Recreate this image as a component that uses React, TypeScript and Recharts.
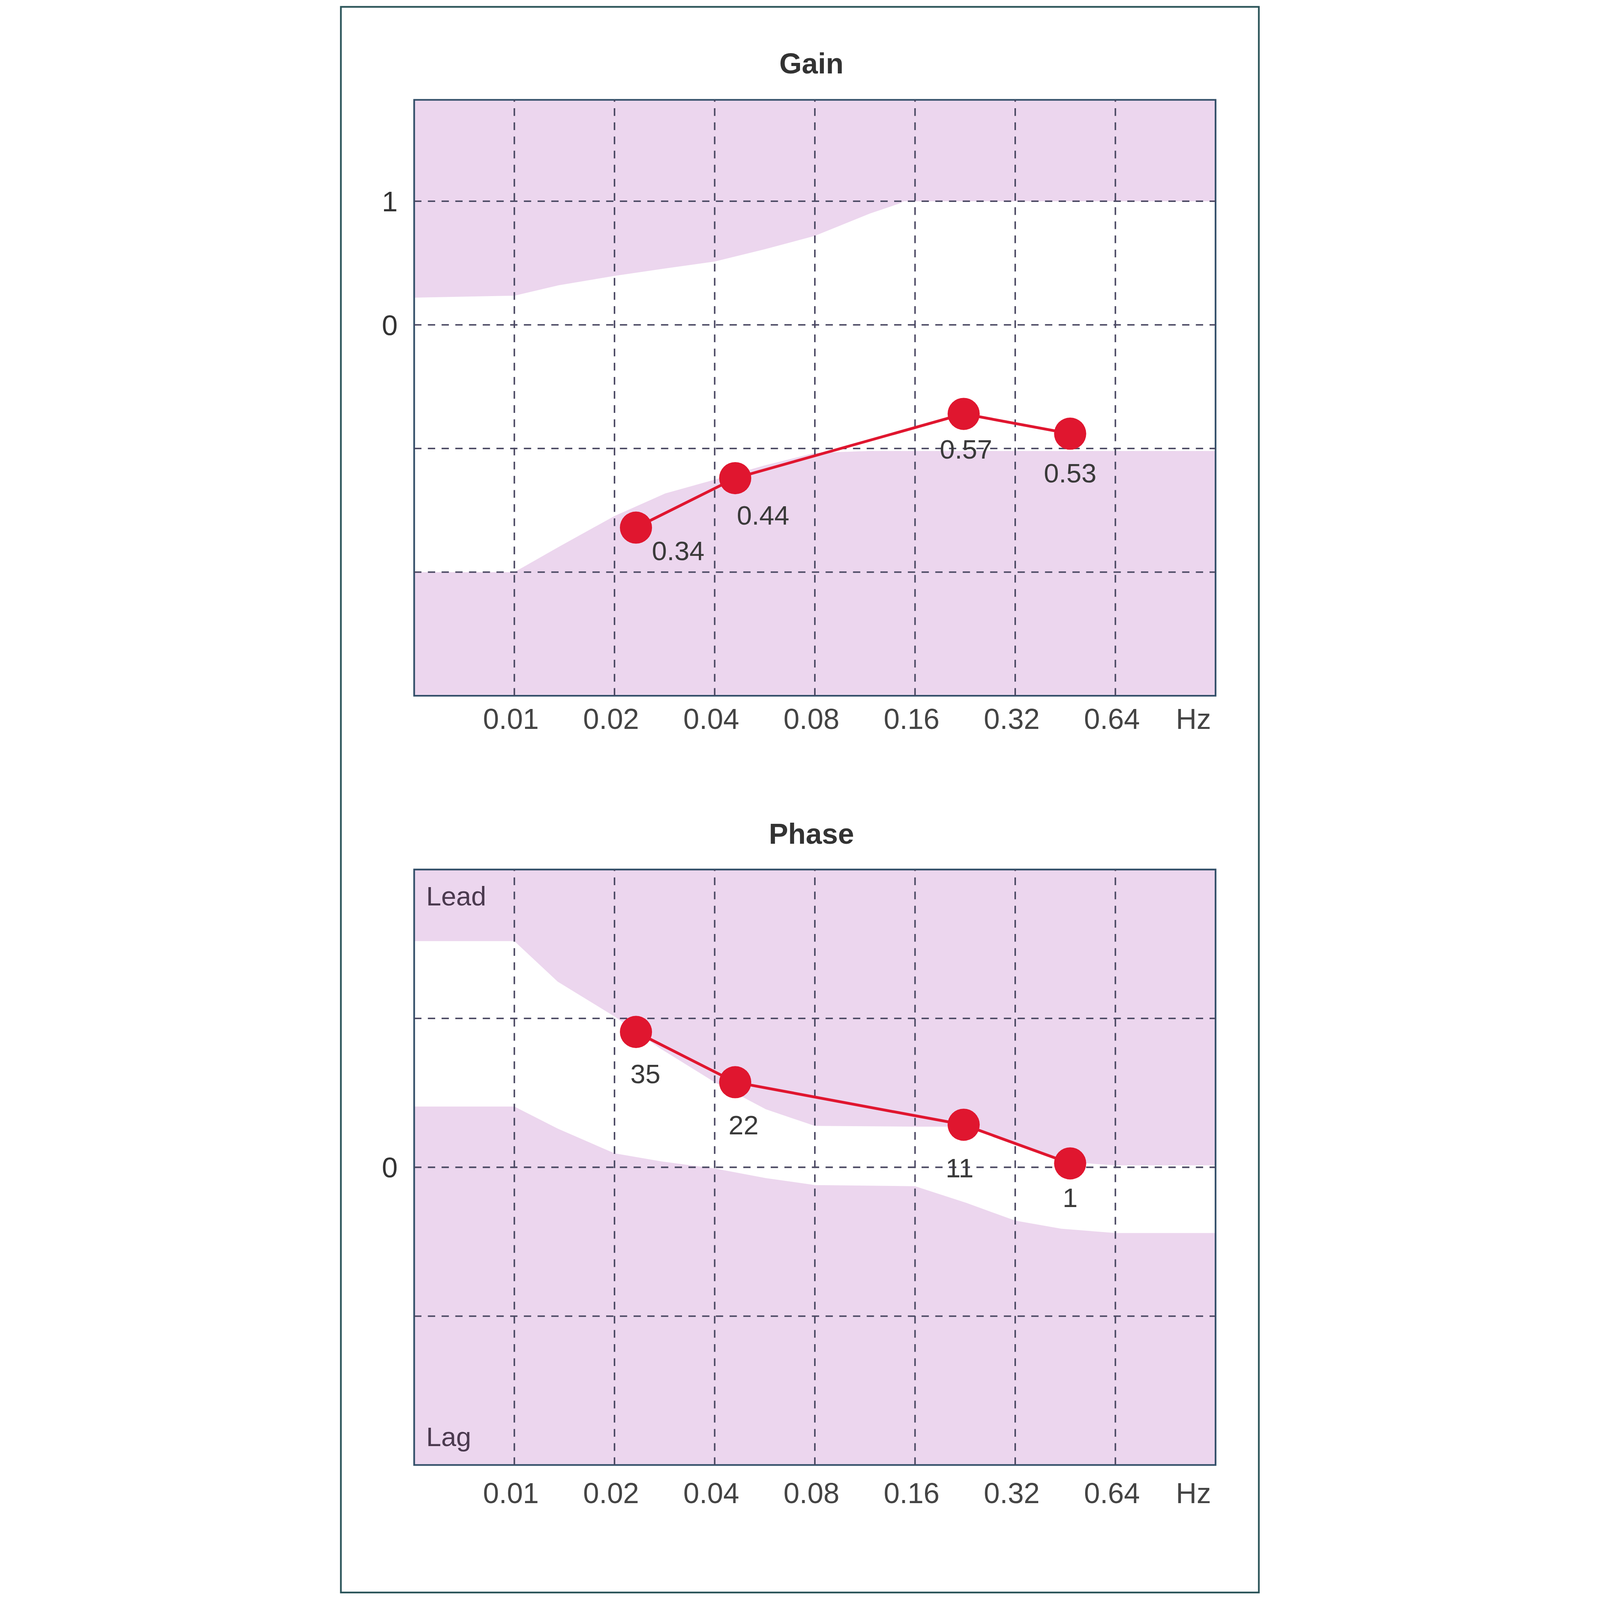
import React from 'react';
import { ComposedChart, Line, Area, XAxis, YAxis, CartesianGrid, ReferenceLine, ReferenceArea } from 'recharts';

// ---- data ----
const xTickValues = [0.01, 0.02, 0.04, 0.08, 0.16, 0.32, 0.64, 1.125];
const xTickLabels = ['0.01', '0.02', '0.04', '0.08', '0.16', '0.32', '0.64', 'Hz'];
const gridFreqs = [0.01, 0.02, 0.04, 0.08, 0.16, 0.32, 0.64];
const xDomain = [0.005, 1.28];

const testFreqs = [0.0232, 0.0461, 0.224, 0.468];
const gainValues = [0.34, 0.44, 0.57, 0.53];
const phaseValues = [35, 22, 11, 1];

const gainGridLevels = [0.25, 0.5, 0.75, 1.0];
const gainTickValues = [0.75, 1.0];
const gainTickLabels = ['0', '1'];
const gainDomain = [0, 1.205];

const phaseGridLevels = [-38.5, 0, 38.5];
const phaseTickValues = [0];
const phaseTickLabels = ['0'];
const phaseDomain = [-77, 77];

// normal-range band (white) boundaries
const gainBandFreqs = [0.005, 0.01, 0.0136, 0.02, 0.0284, 0.04, 0.0566, 0.08, 0.117, 0.143, 0.148, 1.28];
const gainBandLow = [0.25, 0.25, 0.301, 0.3635, 0.409, 0.437, 0.466, 0.491, 0.495, 0.495, 0.495, 0.495];
const gainBandHigh = [0.805, 0.809, 0.83, 0.849, 0.864, 0.878, 0.903, 0.93, 0.975, 0.995, 1.0, 1.0];

const phaseBandFreqs = [0.005, 0.01, 0.0135, 0.02, 0.0277, 0.04, 0.057, 0.08, 0.16, 0.228, 0.32, 0.44, 0.64, 1.28];
const phaseBandLow = [15.7, 15.7, 10, 3.6, 1.5, -0.3, -2.8, -4.6, -4.9, -9.2, -13.8, -15.9, -17, -17];
const phaseBandHigh = [58.5, 58.5, 48, 39, 30.5, 22, 15, 10.7, 10.5, 10.5, 6.2, 1.5, 0.5, 0.5];

// ---- styling / layout ----
const PAGE_W = 4353;
const PAGE_H = 7467;
const FONT = '"Liberation Sans", Arial, Helvetica, sans-serif';
const PINK = '#ecd6ee';
const RED = '#e0162f';
const GRID = '#4a4862';
const FRAME = '#34506a';
const gainLabelOffsets = [[197, 107], [130, 172], [11, 163], [0, 182]];
const phaseLabelOffsets = [[44, 194], [39, 199], [-19, 201], [0, 159]];

const gainPoints = testFreqs.map((f, i) => ({ f, value: gainValues[i] }));
const phasePoints = testFreqs.map((f, i) => ({ f, value: phaseValues[i] }));
const gainBand = gainBandFreqs.map((f, i) => ({ f, band: [gainBandLow[i], gainBandHigh[i]] }));
const phaseBand = phaseBandFreqs.map((f, i) => ({ f, band: [phaseBandLow[i], phaseBandHigh[i]] }));

const XTick = (props: any) => {
  const { x, y, payload } = props;
  const idx = xTickValues.indexOf(payload.value);
  return (
    <text x={x - 16} y={y} dy="0.71em" textAnchor="middle" fontSize={134} fill="#444" fontFamily={FONT}>
      {xTickLabels[idx]}
    </text>
  );
};

const makeYTick = (values: number[], labels: string[]) => (props: any) => {
  const { x, y, payload } = props;
  const idx = values.indexOf(payload.value);
  return (
    <text x={x} y={y} dy="0.36em" textAnchor="end" fontSize={133} fill="#333" fontFamily={FONT}>
      {labels[idx]}
    </text>
  );
};

const makeDot = (offsets: number[][]) => (props: any) => {
  const { cx, cy, index, payload } = props;
  const [dx, dy] = offsets[index] || [0, 0];
  return (
    <g key={`dot-${index}`}>
      <circle cx={cx} cy={cy} r={75} fill={RED} stroke="none" />
      <text x={cx + dx} y={cy + dy} dy="0.36em" textAnchor="middle" fontSize={126} fill="#3a3a3a" fontFamily={FONT}>
        {String(payload.value)}
      </text>
    </g>
  );
};

type PanelProps = {
  top: number;
  height: number;
  marginTop: number;
  marginBottom: number;
  tickMargin: number;
  yDomain: number[];
  yTicks: number[];
  yTickLabels: string[];
  gridLevels: number[];
  points: any[];
  band: any[];
  offsets: number[][];
};

const Panel = (p: PanelProps) => (
  <div style={{ position: 'absolute', left: 0, top: p.top, width: PAGE_W, height: p.height }}>
    <ComposedChart
      width={PAGE_W}
      height={p.height}
      margin={{ top: p.marginTop, right: 237, bottom: p.marginBottom, left: 176 }}
    >
      <CartesianGrid fill={PINK} stroke="none" horizontal={false} vertical={false} />
      <XAxis
        dataKey="f"
        type="number"
        scale="log"
        domain={xDomain}
        allowDataOverflow
        ticks={xTickValues}
        interval={0}
        height={100}
        axisLine={false}
        tickLine={false}
        tickSize={0}
        tickMargin={p.tickMargin}
        tick={<XTick />}
      />
      <YAxis
        type="number"
        domain={p.yDomain}
        allowDataOverflow
        ticks={p.yTicks}
        interval={0}
        width={200}
        axisLine={false}
        tickLine={false}
        tickSize={0}
        tickMargin={77}
        tick={makeYTick(p.yTicks, p.yTickLabels)}
      />
      <Area
        data={p.band}
        dataKey="band"
        type="linear"
        fill="#ffffff"
        fillOpacity={1}
        stroke="none"
        isAnimationActive={false}
        activeDot={false}
        dot={false}
      />
      {gridFreqs.map((f) => (
        <ReferenceLine key={`vx-${f}`} x={f} stroke={GRID} strokeWidth={7} strokeDasharray="36 30" />
      ))}
      {p.gridLevels.map((v) => (
        <ReferenceLine key={`hy-${v}`} y={v} stroke={GRID} strokeWidth={7} strokeDasharray="34 30" />
      ))}
      <ReferenceArea
        x1={xDomain[0]}
        x2={xDomain[1]}
        y1={p.yDomain[0]}
        y2={p.yDomain[1]}
        fill="none"
        stroke={FRAME}
        strokeWidth={8}
        ifOverflow="visible"
      />
      <Line
        data={p.points}
        dataKey="value"
        type="linear"
        stroke={RED}
        strokeWidth={13}
        dot={makeDot(p.offsets)}
        activeDot={false}
        isAnimationActive={false}
      />
    </ComposedChart>
  </div>
);

const Figure = () => (
  <div style={{ position: 'absolute', left: 0, top: 0, width: PAGE_W, height: PAGE_H, background: '#fff' }}>
    <div
      style={{
        position: 'absolute',
        left: 30,
        top: 28,
        width: 4292,
        height: 7408,
        border: '8px solid #2b5459',
        boxSizing: 'border-box',
      }}
    />
    <Panel
      top={0}
      height={3600}
      marginTop={466}
      marginBottom={253}
      tickMargin={59}
      yDomain={gainDomain}
      yTicks={gainTickValues}
      yTickLabels={gainTickLabels}
      gridLevels={gainGridLevels}
      points={gainPoints}
      band={gainBand}
      offsets={gainLabelOffsets}
    />
    <Panel
      top={3600}
      height={3867}
      marginTop={458}
      marginBottom={530}
      tickMargin={82}
      yDomain={phaseDomain}
      yTicks={phaseTickValues}
      yTickLabels={phaseTickLabels}
      gridLevels={phaseGridLevels}
      points={phasePoints}
      band={phaseBand}
      offsets={phaseLabelOffsets}
    />
    <svg width={PAGE_W} height={PAGE_H} style={{ position: 'absolute', left: 0, top: 0, pointerEvents: 'none' }}>
      <text x={2230} y={343} textAnchor="middle" fontSize={135} fontWeight="bold" fill="#333" fontFamily={FONT}>
        Gain
      </text>
      <text x={2230} y={3937} textAnchor="middle" fontSize={135} fontWeight="bold" fill="#333" fontFamily={FONT}>
        Phase
      </text>
      <text x={432} y={4225} fontSize={126} fill="#4b3a4f" fontFamily={FONT}>
        Lead
      </text>
      <text x={432} y={6748} fontSize={126} fill="#4b3a4f" fontFamily={FONT}>
        Lag
      </text>
    </svg>
  </div>
);

export default function App() {
  // The window may be smaller than the requested page; fit the whole figure, keeping its proportions.
  const vw = typeof window !== 'undefined' ? window.innerWidth : PAGE_W;
  const vh = typeof window !== 'undefined' ? window.innerHeight : PAGE_H;
  const s = Math.min(1, vw / PAGE_W, vh / PAGE_H);
  const w = PAGE_W * s;
  const h = PAGE_H * s;
  const left = Math.max(0, (vw - w) / 2);
  return (
    <div style={{ position: 'absolute', left: 0, top: 0, width: vw, height: vh, overflow: 'hidden', background: '#fff' }}>
      <div style={{ position: 'absolute', left, top: 0, width: w, height: h, overflow: 'hidden' }}>
        <div
          style={{
            position: 'absolute',
            left: 0,
            top: 0,
            width: PAGE_W,
            height: PAGE_H,
            transform: `scale(${s})`,
            transformOrigin: '0 0',
          }}
        >
          <Figure />
        </div>
      </div>
    </div>
  );
}
